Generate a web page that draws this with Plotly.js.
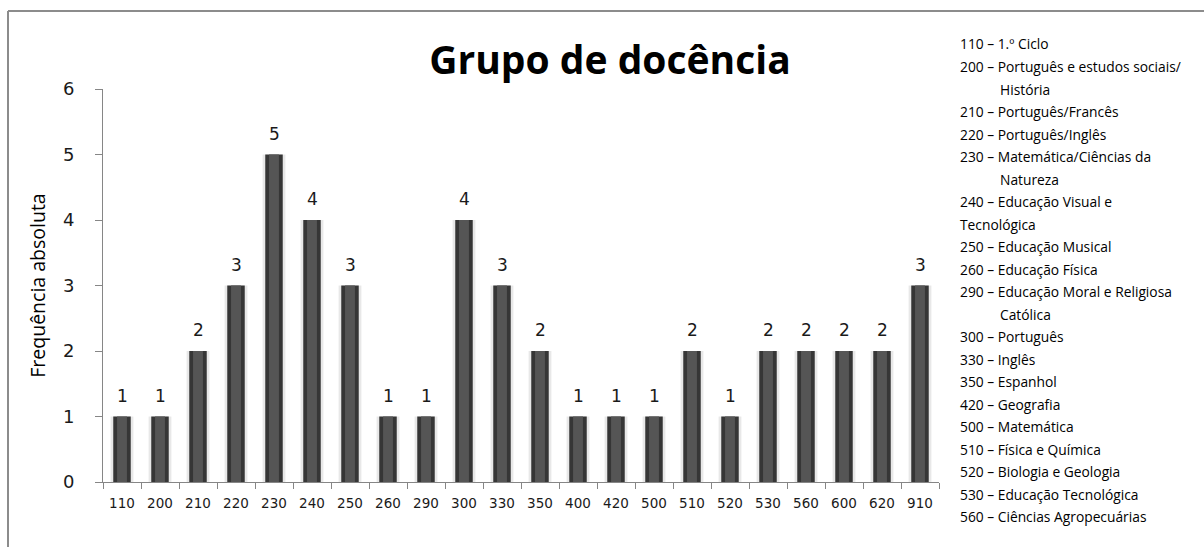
<!DOCTYPE html>
<html>
<head>
<meta charset="utf-8">
<script src="https://cdn.plot.ly/plotly-3.0.1.min.js"></script>
<style>
  html, body { margin: 0; padding: 0; background: #ffffff; }
  #chart { width: 1204px; height: 547px; }
</style>
</head>
<body>
<div id="chart"></div>
<script>
// Teaching groups (codes) and number of teachers in each
const grupos = ["110", "200", "210", "220", "230", "240", "250", "260", "290", "300", "330",
                "350", "400", "420", "500", "510", "520", "530", "560", "600", "620", "910"];
const frequencia = [1, 1, 2, 3, 5, 4, 3, 1, 1, 4, 3, 2, 1, 1, 1, 2, 1, 2, 2, 2, 2, 3];
const yTicks = [0, 1, 2, 3, 4, 5, 6];

// Key of group codes shown beside the chart (wrapped lines kept separate)
const legendaLinhas = [
  "110 – 1.º Ciclo",
  "200 – Português e estudos sociais/",
  "História",
  "210 – Português/Francês",
  "220 – Português/Inglês",
  "230 – Matemática/Ciências da",
  "Natureza",
  "240 – Educação Visual e",
  "Tecnológica",
  "250 – Educação Musical",
  "260 – Educação Física",
  "290 – Educação Moral e Religiosa",
  "Católica",
  "300 – Português",
  "330 – Inglês",
  "350 – Espanhol",
  "420 – Geografia",
  "500 – Matemática",
  "510 – Física e Química",
  "520 – Biologia e Geologia",
  "530 – Educação Tecnológica",
  "560 – Ciências Agropecuárias"
];
const legendaRecuo = [false, false, true, false, false, false, true, false, false, false, false,
                      false, true, false, false, false, false, false, false, false, false, false];

// Plot area in pixels, used to place the key and the frame
const W = 1204, H = 547;
const L = 103, R = 939, T = 89, B = 482;
const px = x => (x - L) / (R - L);
const py = y => (B - y) / (B - T);

const common = { x: grupos, y: frequencia, type: "bar", hoverinfo: "skip", showlegend: false };

const traces = [
  // soft shadow around each column
  Object.assign({}, common, { width: 0.60, marker: { color: "rgba(0,0,0,0.09)" } }),
  // column body
  Object.assign({}, common, { width: 0.46, marker: { color: "#363636", line: { width: 0 } } }),
  // lighter centre for the rounded look
  Object.assign({}, common, { width: 0.26, marker: { color: "#555555", line: { width: 0 } } })
];

const annotations = [];

// value labels over the columns (category axis: x given as the category index)
grupos.forEach((g, i) => {
  annotations.push({
    x: i, y: frequencia[i], xref: "x", yref: "y",
    text: String(frequencia[i]), showarrow: false,
    yanchor: "bottom", yshift: 9,
    font: { family: "DejaVu Sans", size: 17, color: "#1a1a1a" }
  });
});

// key text
const x0 = 958, xIndent = 998, y0 = 44, step = 22.5;
legendaLinhas.forEach((t, i) => {
  annotations.push({
    x: px(legendaRecuo[i] ? xIndent : x0), y: py(y0 + i * step),
    xref: "paper", yref: "paper", xanchor: "left", yanchor: "middle",
    text: t, showarrow: false,
    font: { family: "Open Sans", size: 13.8, color: "#000000" }
  });
});

const layout = {
  width: W, height: H,
  margin: { l: L, r: W - R, t: T, b: H - B, pad: 0 },
  paper_bgcolor: "#ffffff", plot_bgcolor: "#ffffff",
  barmode: "overlay",
  title: {
    text: "<b>Grupo de docência</b>",
    x: 610 / W, xanchor: "center",
    y: 1 - 60 / H, yanchor: "middle", yref: "container",
    font: { family: "Open Sans", size: 39, color: "#000000" }
  },
  xaxis: {
    type: "category", range: [-0.5, grupos.length - 0.5],
    showgrid: false, zeroline: false,
    showline: true, linecolor: "#868686", linewidth: 1,
    ticks: "outside", tickson: "boundaries", ticklen: 6, tickcolor: "#868686",
    tickangle: 0,
    tickfont: { family: "DejaVu Sans", size: 13.5, color: "#1a1a1a" },
    ticklabelstandoff: 9
  },
  yaxis: {
    range: [0, 6], tickvals: yTicks,
    showgrid: false, zeroline: false,
    showline: true, linecolor: "#868686", linewidth: 1,
    ticks: "outside", ticklen: 7, tickcolor: "#868686",
    tickfont: { family: "DejaVu Sans", size: 18, color: "#1a1a1a" },
    ticklabelstandoff: 17,
    title: {
      text: "Frequência absoluta",
      font: { family: "Open Sans", size: 19.5, color: "#000000" },
      standoff: 12
    }
  },
  annotations: annotations,
  shapes: [
    // chart frame: left and top edges
    { type: "line", xref: "paper", yref: "paper", x0: px(8), x1: px(8), y0: py(560), y1: py(11),
      line: { color: "#8c8c8c", width: 2 } },
    { type: "line", xref: "paper", yref: "paper", x0: px(8), x1: px(1210), y0: py(11), y1: py(11),
      line: { color: "#8c8c8c", width: 2 } }
  ]
};

Plotly.newPlot("chart", traces, layout, { displayModeBar: false, staticPlot: true });
</script>
</body>
</html>
